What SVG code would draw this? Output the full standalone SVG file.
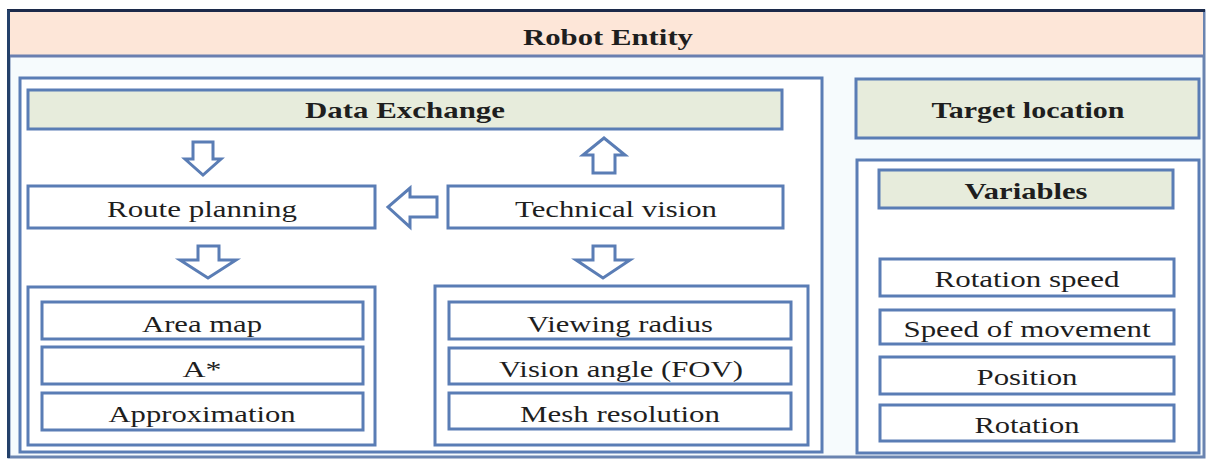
<svg xmlns="http://www.w3.org/2000/svg" width="1208" height="460" viewBox="0 0 1208 460">
  <style>
    .frame { fill: none; stroke: #5a7db5; stroke-width: 3; }
    .panel { fill: #ffffff; stroke: #5a7db5; stroke-width: 3; }
    .box { fill: #ffffff; stroke: #5a7db5; stroke-width: 3; }
    .head { fill: #e7ecdc; stroke: #5a7db5; stroke-width: 3; }
    .arrow { fill: #ffffff; stroke: #5a7db5; stroke-width: 3; stroke-linejoin: miter; }
    text { font-family: "Liberation Serif", "DejaVu Serif", "Times New Roman", serif; font-size: 24px; fill: #1e1e1e; text-anchor: middle; }
    .b { font-weight: bold; font-size: 23px; }
  </style>

  <rect width="1208" height="460" fill="#ffffff"/>

  <!-- outer container with its title band -->
  <g id="robot-entity">
    <rect x="9" y="11" width="1195" height="446" fill="#f6fbfd" stroke="#6a84b0" stroke-width="3"/>
    <rect x="10" y="12" width="1193" height="44" fill="#fde6d8"/>
    <line x1="10" y1="56" x2="1203" y2="56" stroke="#6a7fb0" stroke-width="3"/>
    <line x1="7" y1="10.5" x2="1205" y2="10.5" stroke="#1c2a4a" stroke-width="3"/>
    <line x1="8.5" y1="10" x2="8.5" y2="458" stroke="#23406a" stroke-width="3"/>
    <text class="b" x="608" y="45" textLength="170" lengthAdjust="spacingAndGlyphs" font-family="Liberation Serif, serif">Robot Entity</text>
  </g>

  <!-- left working panel -->
  <g id="main-panel">
    <rect class="panel" x="20" y="78" width="802" height="374"/>
  </g>

  <g id="data-exchange">
    <rect class="head" x="28" y="90" width="754" height="39"/>
    <text class="b" x="405" y="118" textLength="200" lengthAdjust="spacingAndGlyphs">Data Exchange</text>
  </g>

  <g id="route-planning">
    <rect class="box" x="28" y="186" width="347" height="42"/>
    <text x="202" y="217" textLength="190" lengthAdjust="spacingAndGlyphs">Route planning</text>
  </g>

  <g id="technical-vision">
    <rect class="box" x="448" y="186" width="335" height="42"/>
    <text x="616" y="217" textLength="202" lengthAdjust="spacingAndGlyphs">Technical vision</text>
  </g>

  <g id="planning-group">
    <rect class="frame" x="28" y="287" width="347" height="158"/>
    <g id="area-map">
      <rect class="box" x="42" y="302" width="321" height="37"/>
      <text x="202" y="332" textLength="120" lengthAdjust="spacingAndGlyphs">Area map</text>
    </g>
    <g id="a-star">
      <rect class="box" x="42" y="347" width="321" height="37"/>
      <text x="202" y="377" textLength="39" lengthAdjust="spacingAndGlyphs">A*</text>
    </g>
    <g id="approximation">
      <rect class="box" x="42" y="393" width="321" height="37"/>
      <text x="202" y="422" textLength="187" lengthAdjust="spacingAndGlyphs">Approximation</text>
    </g>
  </g>

  <g id="vision-group">
    <rect class="frame" x="435" y="286" width="373" height="159"/>
    <g id="viewing-radius">
      <rect class="box" x="449" y="302" width="342" height="37"/>
      <text x="620" y="332" textLength="186" lengthAdjust="spacingAndGlyphs">Viewing radius</text>
    </g>
    <g id="vision-angle">
      <rect class="box" x="449" y="348" width="342" height="36"/>
      <text x="621" y="377" textLength="244" lengthAdjust="spacingAndGlyphs">Vision angle (FOV)</text>
    </g>
    <g id="mesh-resolution">
      <rect class="box" x="449" y="393" width="342" height="36"/>
      <text x="620" y="422" textLength="200" lengthAdjust="spacingAndGlyphs">Mesh resolution</text>
    </g>
  </g>

  <!-- right column -->
  <g id="target-location">
    <rect class="head" x="856" y="79" width="343" height="59"/>
    <text class="b" x="1028" y="118" textLength="193" lengthAdjust="spacingAndGlyphs">Target location</text>
  </g>

  <g id="variables-panel">
    <rect class="panel" x="857" y="160" width="342" height="293"/>
    <g id="variables">
      <rect class="head" x="879" y="170" width="294" height="38"/>
      <text class="b" x="1026" y="199" textLength="123" lengthAdjust="spacingAndGlyphs">Variables</text>
    </g>
    <g id="rotation-speed">
      <rect class="box" x="880" y="259" width="294" height="37"/>
      <text x="1027" y="287" textLength="185" lengthAdjust="spacingAndGlyphs">Rotation speed</text>
    </g>
    <g id="speed-of-movement">
      <rect class="box" x="880" y="310" width="294" height="34"/>
      <text x="1027" y="337" textLength="247" lengthAdjust="spacingAndGlyphs">Speed of movement</text>
    </g>
    <g id="position">
      <rect class="box" x="880" y="357" width="294" height="37"/>
      <text x="1027" y="385" textLength="101" lengthAdjust="spacingAndGlyphs">Position</text>
    </g>
    <g id="rotation">
      <rect class="box" x="880" y="405" width="294" height="36"/>
      <text x="1027" y="433" textLength="105" lengthAdjust="spacingAndGlyphs">Rotation</text>
    </g>
  </g>

  <!-- hollow block arrows between the stages -->
  <g id="connectors">
    <!-- Data Exchange to Route planning -->
    <polygon class="arrow" points="193,142 213,142 213,159 221,159 203,175 185,159 193,159"/>
    <!-- Route planning to planning group -->
    <polygon class="arrow" points="198,246 219,246 219,260 236,260 208,278 180,260 198,260"/>
    <!-- Technical vision up to Data Exchange -->
    <polygon class="arrow" points="593,173 615,173 615,155 625,155 604,138 583,155 593,155"/>
    <!-- Technical vision to Route planning -->
    <polygon class="arrow" points="437,197 410,197 410,188 388,207 410,227 410,217 437,217"/>
    <!-- Technical vision to vision group -->
    <polygon class="arrow" points="593,246 615,246 615,260 630,260 603,278 576,260 593,260"/>
  </g>
</svg>
